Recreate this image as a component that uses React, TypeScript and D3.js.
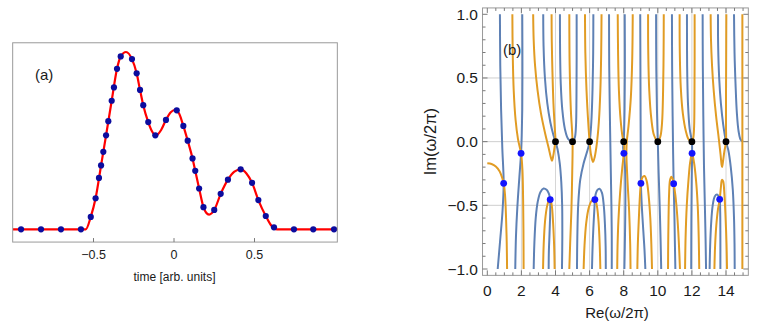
import React from "react";
import * as d3 from "d3";

type Pt = [number, number];

// ---------------- Panel (a): pulse ----------------
const pulseDotTime = [-0.95, -0.826, -0.702, -0.578, -0.517, -0.487, -0.466, -0.453, -0.439, -0.422, -0.408, -0.387, -0.373, -0.354, -0.331, -0.261, -0.232, -0.211, -0.191, -0.16, -0.116, -0.05, 0.017, 0.058, 0.085, 0.115, 0.132, 0.156, 0.183, 0.25, 0.29, 0.335, 0.414, 0.485, 0.524, 0.57, 0.621, 0.745, 0.865, 0.994];
const pulseDotValue = [0, 0, 0, 0, 0.07, 0.175, 0.29, 0.36, 0.437, 0.53, 0.61, 0.725, 0.8, 0.905, 0.975, 0.96, 0.88, 0.786, 0.7, 0.605, 0.53, 0.617, 0.671, 0.583, 0.5, 0.4, 0.33, 0.23, 0.125, 0.109, 0.2, 0.28, 0.338, 0.262, 0.165, 0.075, 0.011, 0, 0, 0];

const pulseCurveTime = [-1, -0.548, -0.517, -0.487, -0.453, -0.422, -0.387, -0.354, -0.331, -0.298, -0.261, -0.232, -0.211, -0.191, -0.16, -0.135, -0.114, -0.08, -0.05, -0.02, 0.003, 0.03, 0.058, 0.085, 0.115, 0.132, 0.156, 0.183, 0.2, 0.218, 0.25, 0.29, 0.335, 0.375, 0.414, 0.45, 0.485, 0.524, 0.57, 0.605, 0.64, 1.015];
const pulseCurveValue = [0, 0, 0.07, 0.175, 0.36, 0.53, 0.725, 0.905, 0.975, 1.0, 0.96, 0.88, 0.786, 0.7, 0.605, 0.55, 0.528, 0.56, 0.617, 0.66, 0.673, 0.655, 0.583, 0.5, 0.4, 0.33, 0.23, 0.125, 0.093, 0.083, 0.109, 0.2, 0.28, 0.325, 0.338, 0.315, 0.262, 0.165, 0.075, 0.02, 0, 0];

const pulseTickValues = [-0.5, 0, 0.5];
const pulseTickLabels = ["\u22120.5", "0", "0.5"];

// ---------------- Panel (b): contours ----------------
const reTickValues = [0, 2, 4, 6, 8, 10, 12, 14];
const reTickLabels = ["0", "2", "4", "6", "8", "10", "12", "14"];
const imTickValues = [1, 0.5, 0, -0.5, -1];
const imTickLabels = ["1.0", "0.5", "0.0", "\u22120.5", "\u22121.0"];
const reGridValues = [2, 4, 6, 8, 10, 12, 14];
const imGridValues = [0.5, 0, -0.5];

const realZeros: Pt[] = [[4, 0], [5, 0], [6, 0], [8, 0], [10, 0], [12, 0], [14, 0]];
const complexZeros: Pt[] = [[0.96, -0.327], [1.98, -0.092], [3.69, -0.455], [6.31, -0.455], [8.01, -0.092], [9.01, -0.327], [10.93, -0.33], [12.01, -0.092], [13.63, -0.453]];

// Re = 0 contours (blue)
const blue01: Pt[] = [[0.74, 1], [0.76, 0.6], [0.81, 0.25], [0.88, -0.05], [0.96, -0.327], [0.89, -0.55], [0.75, -0.78], [0.61, -1]];
const blue02: Pt[] = [[2.05, 1], [2.06, 0.6], [2.05, 0.25], [2.02, 0.05], [1.98, -0.092], [1.88, -0.28], [1.76, -0.52], [1.68, -0.75], [1.64, -1]];
const blue03: Pt[] = [[3.28, 1], [3.3, 0.75], [3.38, 0.5], [3.52, 0.3], [3.7, 0.15], [3.88, 0.05], [4, 0], [4.12, -0.06], [4.25, -0.17], [4.34, -0.32], [4.39, -0.5], [4.4, -0.75], [4.38, -1]];
const blue04: Pt[] = [[2.72, -1], [2.76, -0.8], [2.84, -0.6], [2.96, -0.47], [3.12, -0.395], [3.3, -0.368], [3.48, -0.378], [3.6, -0.405], [3.66, -0.43], [3.69, -0.455], [3.69, -0.55], [3.65, -0.72], [3.61, -0.87], [3.6, -1]];
const blue05: Pt[] = [[4.26, 1], [4.27, 0.7], [4.31, 0.45], [4.4, 0.25], [4.55, 0.1], [4.75, 0.02], [5, 0], [5.13, 0.03], [5.2, 0.12], [5.23, 0.35], [5.24, 0.65], [5.24, 1]];
const blue06: Pt[] = [[6.22, 1], [6.21, 0.7], [6.17, 0.4], [6.1, 0.15], [6, 0], [5.85, -0.08], [5.65, -0.17], [5.45, -0.3], [5.33, -0.5], [5.28, -0.75], [5.26, -1]];
const blue07: Pt[] = [[6.14, -1], [6.17, -0.85], [6.22, -0.68], [6.28, -0.53], [6.31, -0.455], [6.36, -0.41], [6.45, -0.38], [6.58, -0.37], [6.72, -0.4], [6.83, -0.5], [6.9, -0.65], [6.94, -0.82], [6.95, -1]];
const blue08: Pt[] = [[7.14, 1], [7.15, 0.6], [7.19, 0.2], [7.24, -0.2], [7.28, -0.5], [7.3, -0.75], [7.3, -1]];
const blue09: Pt[] = [[8.06, 1], [8.07, 0.6], [8.05, 0.25], [8, 0], [7.965, -0.045], [8.01, -0.092], [8.07, -0.18], [8.1, -0.4], [8.08, -0.7], [8.04, -1]];
const blue10: Pt[] = [[8.97, 1], [8.98, 0.6], [8.99, 0.2], [9, -0.1], [9.01, -0.327], [9.06, -0.5], [9.15, -0.7], [9.22, -0.85], [9.27, -1]];
const blue11: Pt[] = [[9.9, 1], [9.91, 0.6], [9.95, 0.25], [10, 0], [10.05, -0.25], [10.11, -0.5], [10.16, -0.75], [10.2, -1]];
const blue12: Pt[] = [[10.83, 1], [10.84, 0.6], [10.87, 0.2], [10.9, -0.1], [10.93, -0.33], [10.97, -0.55], [11, -0.78], [11.03, -1]];
const blue13: Pt[] = [[11.71, 1], [11.72, 0.6], [11.77, 0.3], [11.87, 0.1], [12, 0], [12.01, -0.092], [11.99, -0.3], [11.97, -0.6], [11.96, -1]];
const blue14: Pt[] = [[12.63, 1], [12.64, 0.6], [12.67, 0.2], [12.71, -0.2], [12.76, -0.5], [12.8, -0.75], [12.83, -1]];
const blue15: Pt[] = [[13.53, 1], [13.54, 0.75], [13.6, 0.5], [13.7, 0.3], [13.84, 0.13], [14, 0], [14.14, -0.07], [14.28, -0.2], [14.4, -0.38], [14.47, -0.6], [14.5, -0.8], [14.51, -1]];
const blue16: Pt[] = [[13.04, -1], [13.07, -0.82], [13.13, -0.64], [13.22, -0.5], [13.34, -0.43], [13.47, -0.415], [13.57, -0.43], [13.63, -0.453], [13.66, -0.55], [13.67, -0.75], [13.67, -1]];
const blue17: Pt[] = [[14.47, 1], [14.5, 0.7], [14.56, 0.45], [14.64, 0.22], [14.74, 0.08], [14.86, 0.015], [15, 0]];

// Im = 0 contours (orange)
const orange01: Pt[] = [[0, -0.17], [0.25, -0.176], [0.5, -0.195], [0.72, -0.232], [0.87, -0.283], [0.96, -0.327], [1.04, -0.42], [1.1, -0.6], [1.14, -0.8], [1.16, -1]];
const orange02: Pt[] = [[1.47, 1], [1.49, 0.7], [1.55, 0.4], [1.66, 0.17], [1.8, 0.02], [1.98, -0.092], [2.06, -0.22], [2.1, -0.45], [2.12, -0.7], [2.13, -1]];
const orange03: Pt[] = [[2.69, 1], [2.72, 0.8], [2.8, 0.6], [2.95, 0.4], [3.15, 0.22], [3.4, 0.06], [3.6, -0.05], [3.72, -0.12], [3.79, -0.15], [3.87, -0.11], [3.95, -0.04], [4, 0], [3.96, 0.1], [3.88, 0.3], [3.82, 0.55], [3.78, 0.8], [3.77, 1]];
const orange04: Pt[] = [[3.27, -1], [3.31, -0.8], [3.39, -0.62], [3.5, -0.51], [3.6, -0.465], [3.69, -0.455], [3.78, -0.5], [3.86, -0.64], [3.92, -0.82], [3.95, -1]];
const orange05: Pt[] = [[4.81, 1], [4.83, 0.6], [4.9, 0.25], [5, 0], [4.98, -0.25], [4.93, -0.55], [4.86, -0.8], [4.81, -1]];
const orange06: Pt[] = [[5.73, 1], [5.75, 0.7], [5.82, 0.4], [5.92, 0.15], [6, 0], [6.08, -0.1], [6.2, -0.16], [6.3, -0.12], [6.42, -0.02], [6.54, 0.15], [6.63, 0.4], [6.68, 0.7], [6.7, 1]];
const orange07: Pt[] = [[5.65, -1], [5.7, -0.82], [5.8, -0.64], [5.95, -0.52], [6.12, -0.465], [6.31, -0.455], [6.42, -0.5], [6.52, -0.62], [6.59, -0.8], [6.63, -1]];
const orange08: Pt[] = [[7.65, 1], [7.67, 0.7], [7.72, 0.4], [7.82, 0.17], [7.93, 0.04], [8, 0], [8.04, -0.045], [8.01, -0.092], [7.92, -0.2], [7.79, -0.4], [7.69, -0.62], [7.64, -0.82], [7.62, -1]];
const orange09: Pt[] = [[8.53, 1], [8.5, 0.65], [8.42, 0.35], [8.28, 0.12], [8.18, 0], [8.16, -0.1], [8.22, -0.3], [8.32, -0.55], [8.38, -0.8], [8.4, -1]];
const orange10: Pt[] = [[8.8, -1], [8.83, -0.8], [8.89, -0.6], [8.95, -0.43], [9.01, -0.327], [9.1, -0.28], [9.22, -0.27], [9.35, -0.31], [9.46, -0.42], [9.56, -0.6], [9.62, -0.8], [9.66, -1]];
const orange11: Pt[] = [[9.43, 1], [9.44, 0.7], [9.5, 0.4], [9.62, 0.18], [9.78, 0.05], [10, 0], [10.15, 0.04], [10.25, 0.15], [10.31, 0.4], [10.34, 0.7], [10.35, 1]];
const orange12: Pt[] = [[10.6, -1], [10.61, -0.8], [10.63, -0.6], [10.66, -0.42], [10.72, -0.3], [10.8, -0.275], [10.87, -0.29], [10.93, -0.33], [11.03, -0.42], [11.14, -0.58], [11.23, -0.78], [11.3, -1]];
const orange13: Pt[] = [[11.28, 1], [11.29, 0.7], [11.35, 0.42], [11.47, 0.22], [11.65, 0.08], [11.82, 0.015], [12, 0], [12.08, 0.03], [12.13, 0.12], [12.15, 0.35], [12.16, 0.65], [12.16, 1]];
const orange14: Pt[] = [[11.6, -1], [11.63, -0.75], [11.7, -0.5], [11.8, -0.3], [11.9, -0.16], [12.01, -0.092], [12.12, -0.16], [12.24, -0.3], [12.34, -0.5], [12.4, -0.75], [12.43, -1]];
const orange15: Pt[] = [[13.1, 1], [13.12, 0.8], [13.18, 0.6], [13.28, 0.4], [13.42, 0.2], [13.58, 0.02], [13.68, -0.1], [13.74, -0.18], [13.77, -0.2], [13.82, -0.16], [13.9, -0.08], [14, 0], [14, 0.12], [14, 0.35], [14.01, 0.65], [14.02, 1]];
const orange16: Pt[] = [[13.32, -1], [13.36, -0.82], [13.43, -0.66], [13.53, -0.53], [13.63, -0.453], [13.7, -0.36], [13.76, -0.3], [13.83, -0.31], [13.9, -0.4], [13.97, -0.58], [14.03, -0.8], [14.06, -1]];
const orange17: Pt[] = [[14.96, 1], [14.96, 0], [14.96, -1]];

const blueContours = [blue01, blue02, blue03, blue04, blue05, blue06, blue07, blue08, blue09, blue10, blue11, blue12, blue13, blue14, blue15, blue16, blue17];
const orangeContours = [orange01, orange02, orange03, orange04, orange05, orange06, orange07, orange08, orange09, orange10, orange11, orange12, orange13, orange14, orange15, orange16, orange17];

const FONT = "'Liberation Sans', Arial, Helvetica, sans-serif";

export default function App() {
  // ---- scales panel (a)
  const xA = d3.scaleLinear().domain([-1, 1]).range([13, 335]);
  const yA = d3.scaleLinear().domain([0, 1]).range([229.3, 52]);
  const aLeft = xA(-1.002), aRight = xA(1.0145), aTop = yA(1.052), aBottom = yA(-0.072);
  const pulseLine = d3
    .line<number>()
    .x((t) => xA(t))
    .y((_, i) => yA(pulseCurveValue[i]))
    .curve(d3.curveMonotoneX);

  // ---- scales panel (b)
  const xB = d3.scaleLinear().domain([0, 14]).range([487.3, 726]);
  const yB = d3.scaleLinear().domain([-1, 1]).range([269, 14.3]);
  const bLeft = xB(-0.28), bRight = xB(15.31), bTop = yB(1.05), bBottom = yB(-1.05);
  const contour = d3
    .line<Pt>()
    .x((d) => xB(d[0]))
    .y((d) => yB(d[1]))
    .curve(d3.curveCatmullRom.alpha(0.5));

  const minorRe = d3.range(0, 15.01, 0.5).filter((v) => Math.abs(v % 2) > 1e-6);
  const minorIm = d3.range(-1, 1.001, 0.1).map((v) => Math.round(v * 10) / 10).filter((v) => Math.abs((v * 10) % 5) > 1e-6);

  const frameColor = "#9a9a9a";
  const tickColor = "#7a7a7a";
  const textColor = "#1a1a1a";

  return (
    <svg width={763} height={331} style={{ position: "absolute", left: 0, top: 0, background: "#fff" }} fontFamily={FONT}>
      <defs>
        <clipPath id="clipB">
          <rect x={bLeft} y={bTop} width={bRight - bLeft} height={bBottom - bTop} />
        </clipPath>
      </defs>
      <rect x={0} y={0} width={763} height={331} fill="#fff" />

      {/* ================= Panel (a) ================= */}
      <g>
        <path d={pulseLine(pulseCurveTime) || ""} fill="none" stroke="#ff0000" strokeWidth={2.2} strokeLinejoin="round" />
        {pulseDotTime.map((t, i) => (
          <circle key={i} cx={xA(t)} cy={yA(pulseDotValue[i])} r={3.1} fill="#0c0c9e" />
        ))}
        <rect x={aLeft} y={aTop} width={aRight - aLeft} height={aBottom - aTop} fill="none" stroke={frameColor} strokeWidth={1} />
        {pulseTickValues.map((v, i) => (
          <g key={i}>
            <line x1={xA(v)} x2={xA(v)} y1={aBottom} y2={aBottom - 4} stroke={tickColor} strokeWidth={1} />
            <text x={xA(v)} y={259} textAnchor="middle" fontSize={12.5} fill={textColor}>
              {pulseTickLabels[i]}
            </text>
          </g>
        ))}
        <text x={174.5} y={281} textAnchor="middle" fontSize={12} fill={textColor}>
          time [arb. units]
        </text>
        <text x={35} y={80} fontSize={15} fill={textColor}>
          (a)
        </text>
      </g>

      {/* ================= Panel (b) ================= */}
      <g>
        {reGridValues.map((v) => (
          <line key={"gx" + v} x1={xB(v)} x2={xB(v)} y1={bTop} y2={bBottom} stroke="#d6d6d6" strokeWidth={1} />
        ))}
        {imGridValues.map((v) => (
          <line key={"gy" + v} x1={bLeft} x2={bRight} y1={yB(v)} y2={yB(v)} stroke="#cfcfcf" strokeWidth={1} />
        ))}
        <g clipPath="url(#clipB)" fill="none" strokeWidth={2} strokeLinecap="butt" strokeLinejoin="round">
          {blueContours.map((c, i) => (
            <path key={"b" + i} d={contour(c) || ""} stroke="#5e81b5" />
          ))}
          {orangeContours.map((c, i) => (
            <path key={"o" + i} d={contour(c) || ""} stroke="#e19c24" />
          ))}
        </g>
        {realZeros.map((p, i) => (
          <circle key={"rz" + i} cx={xB(p[0])} cy={yB(p[1])} r={3.4} fill="#000" />
        ))}
        {complexZeros.map((p, i) => (
          <circle key={"cz" + i} cx={xB(p[0])} cy={yB(p[1])} r={3.4} fill="#1414ff" />
        ))}
        <rect x={bLeft} y={bTop} width={bRight - bLeft} height={bBottom - bTop} fill="none" stroke={frameColor} strokeWidth={1} />
        {/* ticks */}
        {reTickValues.map((v, i) => (
          <g key={"rt" + v}>
            <line x1={xB(v)} x2={xB(v)} y1={bBottom} y2={bBottom - 5} stroke={tickColor} />
            <line x1={xB(v)} x2={xB(v)} y1={bTop} y2={bTop + 5} stroke={tickColor} />
            <text x={xB(v)} y={296} textAnchor="middle" fontSize={15.5} fill={textColor}>
              {reTickLabels[i]}
            </text>
          </g>
        ))}
        {minorRe.map((v) => (
          <g key={"rm" + v}>
            <line x1={xB(v)} x2={xB(v)} y1={bBottom} y2={bBottom - 3} stroke={tickColor} />
            <line x1={xB(v)} x2={xB(v)} y1={bTop} y2={bTop + 3} stroke={tickColor} />
          </g>
        ))}
        {imTickValues.map((v, i) => (
          <g key={"it" + v}>
            <line x1={bLeft} x2={bLeft + 5} y1={yB(v)} y2={yB(v)} stroke={tickColor} />
            <line x1={bRight} x2={bRight - 5} y1={yB(v)} y2={yB(v)} stroke={tickColor} />
            <text x={478} y={yB(v) + 5.5} textAnchor="end" fontSize={15.5} fill={textColor}>
              {imTickLabels[i]}
            </text>
          </g>
        ))}
        {minorIm.map((v) => (
          <g key={"im" + v}>
            <line x1={bLeft} x2={bLeft + 3} y1={yB(v)} y2={yB(v)} stroke={tickColor} />
            <line x1={bRight} x2={bRight - 3} y1={yB(v)} y2={yB(v)} stroke={tickColor} />
          </g>
        ))}
        <text x={617} y={318} textAnchor="middle" fontSize={15} fill={textColor}>
          Re(ω/2π)
        </text>
        <text transform={`translate(436, ${yB(0)}) rotate(-90)`} textAnchor="middle" fontSize={16.5} fill={textColor}>
          Im(ω/2π)
        </text>
        <text x={503} y={55} fontSize={15} fill={textColor}>
          (b)
        </text>
      </g>
    </svg>
  );
}
